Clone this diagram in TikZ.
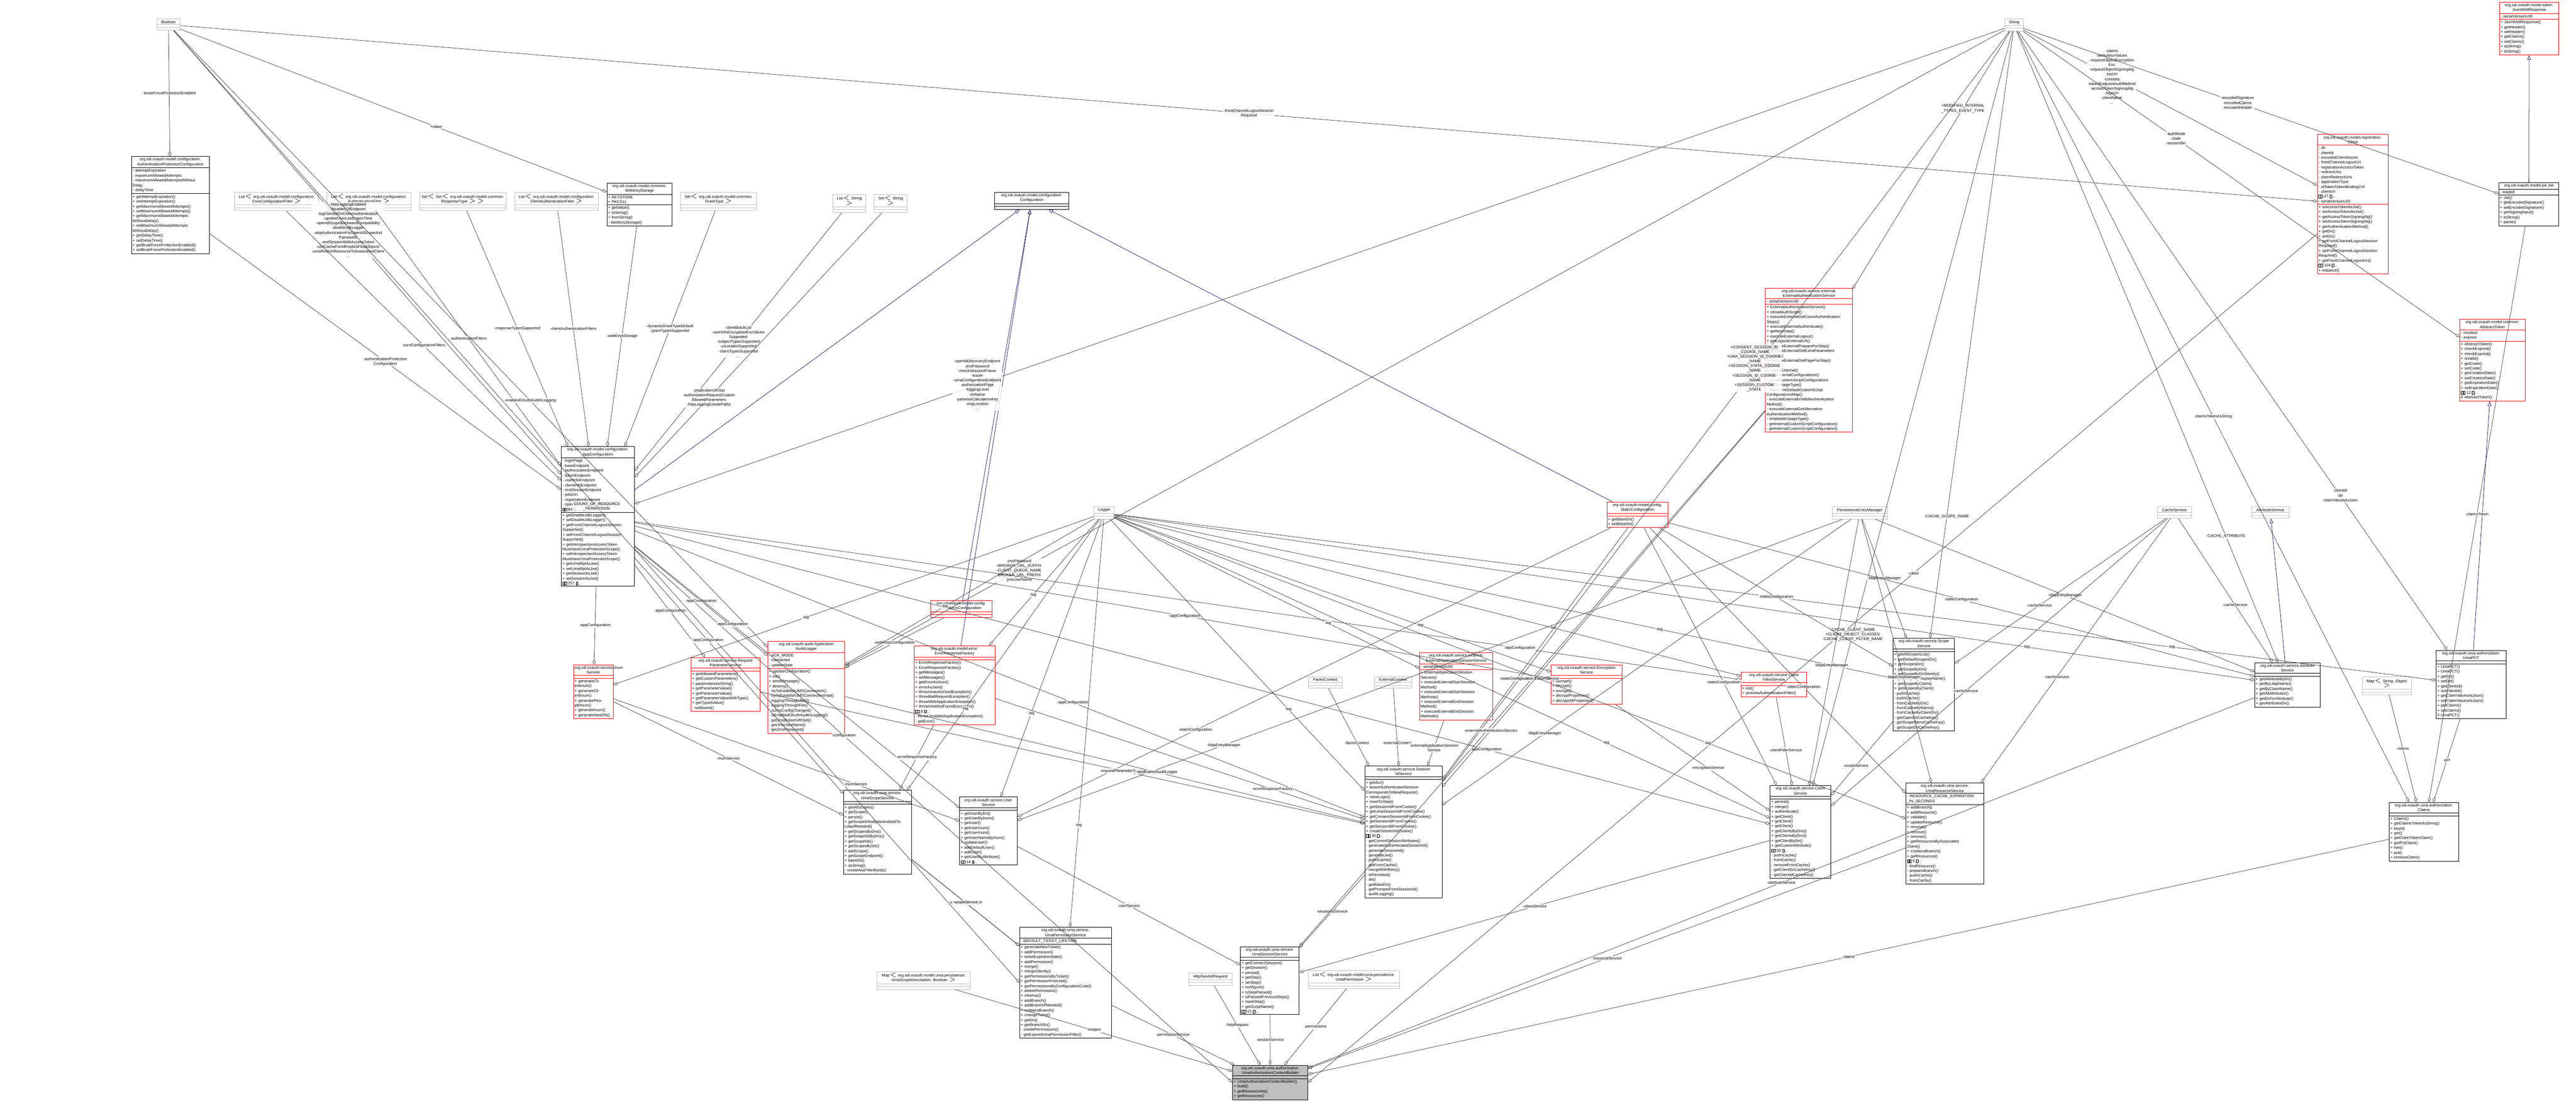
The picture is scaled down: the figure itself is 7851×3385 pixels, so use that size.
\documentclass[tikz,border=0pt]{standalone}
\usepackage{fontspec}
\setmainfont{Liberation Sans}
\usetikzlibrary{shapes.multipart,arrows.meta}
\definecolor{edgegray}{RGB}{64,64,64}
\definecolor{boxgray}{RGB}{191,191,191}
\definecolor{inhblue}{RGB}{25,25,112}
\newcommand\mbx{{\fboxsep=0pt\fboxrule=0.15pt\fbox{\rule{0pt}{2pt}\rule{1.3pt}{0pt}}}}
% one doxygen class box: name, x, y, width, style, title, attributes, methods
\newcommand\umlclass[8]{%
  \node[#5, text width=#4] (#1) at (#2,#3)
    {\centering #6\par \nodepart{second} #7 \nodepart{three} #8};}
\tikzset{
  cls/.style={rectangle split, rectangle split parts=3, draw=black, line width=0.35pt,
    anchor=north west, align=left, inner sep=0.9pt, font=\fontsize{3}{3.7}\selectfont,
    rectangle split empty part height=5pt},
  redcls/.style={cls, draw=red},
  extcls/.style={cls, draw=boxgray},
  maincls/.style={cls, fill=boxgray},
  agg/.style={-{Diamond[open,length=4pt,width=2.4pt]}, draw=edgegray, line width=0.3pt},
  inh/.style={-{Triangle[open,length=3.5pt,width=2.8pt]}, draw=inhblue, line width=0.3pt},
  lbl/.style={font=\fontsize{3}{3.6}\selectfont, align=center, inner sep=0.5pt, fill=white, fill opacity=0.8, text opacity=1}
}
\begin{document}
\begin{tikzpicture}[x=0.25pt,y=-0.25pt]
\useasboundingbox (0,0) rectangle (7851,3385);
% basic types
\umlclass{bool}{477}{57}{16pt}{extcls}{Boolean}{}{}
\umlclass{str}{6109}{57}{12.5pt}{extcls}{String}{}{}
\umlclass{logger}{3334}{1544}{13.5pt}{extcls}{Logger}{}{}
\umlclass{listcors}{715}{586}{62pt}{extcls}{List$<$ org.xdi.oxauth.model.configuration.\\CorsConfigurationFilter $>$}{}{}
\umlclass{listauth}{996}{586}{62pt}{extcls}{List$<$ org.xdi.oxauth.model.configuration.\\AuthenticationFilter $>$}{}{}
\umlclass{setrt}{1278}{586}{64pt}{extcls}{Set$<$ Set$<$ org.xdi.oxauth.model.common.\\ResponseType $>$ $>$}{}{}
\umlclass{listcaf}{1568}{586}{62pt}{extcls}{List$<$ org.xdi.oxauth.model.configuration.\\ClientAuthenticationFilter $>$}{}{}
\umlclass{setgt}{2074}{586}{56pt}{extcls}{Set$<$ org.xdi.oxauth.model.common.\\GrantType $>$}{}{}
\umlclass{liststr}{2537}{592}{23.5pt}{extcls}{List$<$ String $>$}{}{}
\umlclass{setstr}{2663}{592}{23.5pt}{extcls}{Set$<$ String $>$}{}{}
\umlclass{pem}{5583}{1544}{40.5pt}{extcls}{PersistenceEntryManager}{}{}
\umlclass{cache}{6575}{1544}{24pt}{extcls}{CacheService}{}{}
\umlclass{attrbase}{6861}{1544}{27pt}{extcls}{AttributeService}{}{}
\umlclass{faces}{3987}{2062}{24pt}{extcls}{FacesContext}{}{}
\umlclass{extctx}{4187}{2062}{27pt}{extcls}{ExternalContext}{}{}
\umlclass{mapso}{7199}{2062}{35.5pt}{extcls}{Map$<$ String, Object $>$}{}{}
\umlclass{mapscope}{2673}{2959}{69pt}{extcls}{Map$<$ org.xdi.oxauth.model.uma.persistence.\\UmaScopeDescription, Boolean $>$}{}{}
\umlclass{httpreq}{3623}{2965}{31pt}{extcls}{HttpServletRequest}{}{}
\umlclass{listperm}{3986}{2957}{68pt}{extcls}{List$<$ org.xdi.oxauth.model.uma.persistence.\\UmaPermission $>$}{}{}
% configuration
\umlclass{authprot}{400}{476}{57.5pt}{cls}{org.xdi.oxauth.model.configuration.\\AuthenticationProtectionConfiguration}
  {- attemptExpiration\\- maximumAllowedAttempts\\- maximumAllowedAttemptsWithout\\Delay\\- delayTime}
  {+ getAttemptExpiration()\\+ setAttemptExpiration()\\+ getMaximumAllowedAttempts()\\+ setMaximumAllowedAttempts()\\+ getMaximumAllowedAttempts\\WithoutDelay()\\+ setMaximumAllowedAttempts\\WithoutDelay()\\+ getDelayTime()\\+ setDelayTime()\\+ getBruteForceProtectionEnabled()\\+ setBruteForceProtectionEnabled()}
\umlclass{wks}{1849}{557}{48pt}{cls}{org.xdi.oxauth.model.common.\\WebKeyStorage}
  {+ KEYSTORE\\+ PKCS11}{+ getValue()\\+ toString()\\+ fromString()\\- WebKeyStorage()}
\umlclass{conf}{3031}{585}{54.5pt}{cls}{org.xdi.oxauth.model.configuration.\\Configuration}{}{}
\umlclass{appconf}{1710}{1360}{54pt}{cls}{org.xdi.oxauth.model.configuration.\\AppConfiguration}
  {- loginPage\\- baseEndpoint\\- authorizationEndpoint\\- tokenEndpoint\\- userInfoEndpoint\\- clientInfoEndpoint\\- endSessionEndpoint\\- jwksUri\\- registrationEndpoint\\- openIdConfigurationEndpoint\\\mbx\mbx{} 84 \mbx...}
  {+ getDisableJdkLogger()\\+ setDisableJdkLogger()\\+ getFrontChannelLogoutSession\\Supported()\\+ setFrontChannelLogoutSession\\Supported()\\+ getIntrospectionAccessToken\\MustHaveUmaProtectionScope()\\+ setIntrospectionAccessToken\\MustHaveUmaProtectionScope()\\+ getUmaRptAsJwt()\\+ setUmaRptAsJwt()\\+ getSessionAsJwt()\\+ setSessionAsJwt()\\\mbx\mbx{} 257 \mbx...}
\umlclass{staticconf}{4897}{1529}{44.5pt}{redcls}{org.xdi.oxauth.model.config.\\StaticConfiguration}{}{+ getBaseDn()\\+ setBaseDn()}
\umlclass{wkconf}{2835}{1829}{45pt}{redcls}{org.xdi.oxauth.model.config.\\WebKeysConfiguration}{}{}
\umlclass{errfac}{2785}{1967}{60pt}{redcls}{org.xdi.oxauth.model.error.\\ErrorResponseFactory}{}
  {+ ErrorResponseFactory()\\+ ErrorResponseFactory()\\+ getMessages()\\+ setMessages()\\+ getErrorAsJson()\\+ errorAsJson()\\+ throwUnauthorizedException()\\+ throwBadRequestException()\\+ throwWebApplicationException()\\+ throwUmaNotFoundException()\\\mbx\mbx{} 8 \mbx...\\- throwUmaWebApplicationException()\\- getError()}
% tokens and client
\umlclass{jwr}{7617}{6}{43.5pt}{redcls}{org.xdi.oxauth.model.token.\\JsonWebResponse}{- serialVersionUID}
  {+ JsonWebResponse()\\+ getHeader()\\+ setHeader()\\+ getClaims()\\+ setClaims()\\+ asString()\\+ toString()}
\umlclass{jwt}{7615}{556}{44pt}{cls}{org.xdi.oxauth.model.jwt.Jwt}{- loaded}
  {+ Jwt()\\+ getEncodedSignature()\\+ setEncodedSignature()\\+ getSigningInput()\\+ toString()\\+ parse()}
\umlclass{client}{7062}{409}{52pt}{redcls}{org.xdi.oxauth.model.registration.\\Client}
  {- dn\\- clientId\\- encodedClientSecret\\- frontChannelLogoutUri\\- registrationAccessToken\\- redirectUris\\- claimRedirectUris\\- applicationType\\- idTokenTokenBindingCnf\\- clientUri\\\mbx\mbx{} 27 \mbx...\\- serialVersionUID}
  {+ isAccessTokenAsJwt()\\+ setAccessTokenAsJwt()\\+ getAccessTokenSigningAlg()\\+ setAccessTokenSigningAlg()\\+ getAuthenticationMethod()\\+ getDn()\\+ setDn()\\+ getFrontChannelLogoutSession\\Required()\\+ setFrontChannelLogoutSession\\Required()\\+ getFrontChannelLogoutUri()\\\mbx\mbx{} 104 \mbx...\\+ instance()}
\umlclass{abstok}{7496}{972}{48pt}{redcls}{org.xdi.oxauth.model.common.\\AbstractToken}{- revoked\\- expired}
  {+ AbstractToken()\\+ checkExpired()\\+ checkExpired()\\+ isValid()\\+ getCode()\\+ setCode()\\+ getCreationDate()\\+ setCreationDate()\\+ getExpirationDate()\\+ setExpirationDate()\\\mbx\mbx{} 12 \mbx...\\\# AbstractToken()}
\umlclass{extauth}{5380}{877}{64.5pt}{redcls}{org.xdi.oxauth.service.external.\\ExternalAuthenticationService}{- serialVersionUID}
  {+ ExternalAuthenticationService()\\+ reloadAuthScript()\\+ executeExternalGetCountAuthentication\\Steps()\\+ executeExternalAuthenticate()\\+ getNextStep()\\+ executeExternalLogout()\\+ getLogoutExternalUrl()\\+ executeExternalPrepareForStep()\\+ executeExternalGetExtraParameters\\ForStep()\\+ executeExternalGetPageForStep()\\\mbx\mbx{} 14 \mbx...\\\# reloadExternal()\\\# addExternalConfigurations()\\- groupCustomScriptConfigurations\\MapByUsageType()\\- determineDefaultCustomScript\\ConfigurationsMap()\\- executeExternalIsValidAuthentication\\Method()\\- executeExternalGetAlternative\\AuthenticationMethod()\\- isValidateUsageType()\\- getInternalCustomScriptConfiguration()\\- getInternalCustomScriptConfiguration()}
\umlclass{umapct}{7424}{1981}{51.5pt}{cls}{org.xdi.oxauth.uma.authorization.\\UmaPCT}{}
  {+ UmaPCT()\\+ UmaPCT()\\+ getDn()\\+ setDn()\\+ getClientId()\\+ setClientId()\\+ getClaimValuesAsJson()\\+ setClaimValuesAsJson()\\+ getClaims()\\+ setClaims()\\\# UmaPCT()}
\umlclass{claims}{7281}{2444}{51pt}{cls}{org.xdi.oxauth.uma.authorization.\\Claims}{}
  {+ Claims()\\+ getClaimsTokenAsString()\\+ keys()\\+ get()\\+ getClaimTokenClaim()\\+ getPctClaim()\\+ has()\\+ put()\\+ removeClaim()}
% services
\umlclass{inum}{1747}{2025}{28.5pt}{redcls}{org.xdi.oxauth.service.Inum\\Service}{}
  {+ generateClientInum()\\+ generateClientInum()\\+ generatePeopleInum()\\+ generateInum()\\+ generateNewDN()}
\umlclass{reqparam}{2105}{2003}{51pt}{redcls}{org.xdi.oxauth.service.Request\\ParameterService}{}
  {+ getAllowedParameters()\\+ getCustomParameters()\\+ parametersAsString()\\+ getParameterValue()\\+ getParameterValue()\\+ getParameterValueWithType()\\+ getTypedValue()\\- isAllowed()}
\umlclass{audit}{2339}{1953}{57pt}{redcls}{org.xdi.oxauth.audit.Application\\AuditLogger}{- ACK\_MODE\\- transacted\\- updateState}
  {+ updateConfiguration()\\+ init()\\+ sendMessage()\\+ destroy()\\- tryToEstablishJMSConnection()\\- tryToEstablishJMSConnectionImpl()\\- loggingThroughJMS()\\- loggingThroughFile()\\- isJmsConfigChanged()\\- isEnabledOAuthAuditnLogging()\\- getJmsBrokerURISet()\\- getJmsUserName()\\- getJmsPassword()}
\umlclass{extapp}{4326}{1988}{54pt}{redcls}{org.xdi.oxauth.service.external.\\ExternalApplicationSessionService}{- serialVersionUID}
  {+ ExternalApplicationSession\\Service()\\+ executeExternalStartSession\\Method()\\+ executeExternalStartSession\\Methods()\\+ executeExternalEndSession\\Method()\\+ executeExternalEndSession\\Methods()}
\umlclass{encr}{4727}{2025}{52pt}{redcls}{org.xdi.oxauth.service.Encryption\\Service}{}
  {+ decrypt()\\+ decrypt()\\+ encrypt()\\+ decryptProperties()\\+ decryptAllProperties()}
\umlclass{cfilter}{5306}{2047}{48pt}{redcls}{org.xdi.oxauth.service.Client\\FilterService}{}{+ init()\\+ processAuthenticationFilter()}
\umlclass{scope}{5769}{1944}{45pt}{cls}{org.xdi.oxauth.service.Scope\\Service}{}
  {+ getAllScopesList()\\+ getDefaultScopesDn()\\+ getScopesDn()\\+ getScopeByDn()\\+ getScopeByDnSilently()\\+ getScopeByDisplayName()\\+ getScopeByClaim()\\+ getScopesByClaim()\\- putInCache()\\- putInCache()\\- fromCacheByDn()\\- fromCacheByName()\\- fromCacheByClaimDn()\\- getClaimDnCacheKey()\\- getScopeNameCacheKey()\\- getScopeDnCacheKey()}
\umlclass{attr}{6871}{2019}{48pt}{cls}{org.xdi.oxauth.service.Attribute\\Service}{}
  {+ getAttributeByDn()\\+ getByLdapName()\\+ getByClaimName()\\+ getAllAttributes()\\+ getDnForAttribute()\\+ getAttributesDn()}
\umlclass{umascope}{2570}{2407}{50pt}{cls}{org.xdi.oxauth.uma.service.\\UmaScopeService}{}
  {+ getAllScopes()\\+ getScope()\\+ persist()\\+ getScopeDNsByIdsAndAddTo\\LdapIfNeeded()\\+ getScopesByDns()\\+ getScopeIdsByDns()\\+ getScopeIds()\\+ getScopesByIds()\\+ addScope()\\+ getScopeEndpoint()\\+ baseDn()\\+ asString()\\- createAnyFilterByIds()}
\umlclass{user}{2924}{2428}{42pt}{cls}{org.xdi.oxauth.service.User\\Service}{}
  {+ getUserByDn()\\+ getUserByInum()\\+ getUser()\\+ getUserInum()\\+ getUserInum()\\+ getUserNameByInum()\\+ updateUser()\\+ addDefaultUser()\\+ addUser()\\+ getUserByAttribute()\\\mbx\mbx{} 14 \mbx...}
\umlclass{sessid}{4159}{2334}{57pt}{cls}{org.xdi.oxauth.service.Session\\IdService}{}
  {+ getAcr()\\+ assertAuthenticatedSession\\CorrespondsToNewRequest()\\+ reinitLogin()\\+ resetToStep()\\+ getSessionIdFromCookie()\\+ getUmaSessionIdFromCookie()\\+ getConsentSessionIdFromCookie()\\+ getSessionIdFromCookie()\\+ getSessionIdFromCookie()\\+ createSessionIdCookie()\\\mbx\mbx{} 30 \mbx...\\- getCurrentSessionAttributes()\\- generateAuthenticatedSessionId()\\- generateSessionId()\\- generateJwt()\\- putInCache()\\- getFromCache()\\- mergeWithRetry()\\- isPersisted()\\- dn()\\- getBaseDn()\\- getPromptsFromSessionId()\\- auditLogging()}
\umlclass{clientsvc}{5394}{2393}{44.5pt}{cls}{org.xdi.oxauth.service.Client\\Service}{}
  {+ persist()\\+ merge()\\+ authenticate()\\+ getClient()\\+ getClient()\\+ getClient()\\+ getClientsByDns()\\+ getClientsByDns()\\+ getClientByDn()\\+ getCustomAttribute()\\\mbx\mbx{} 30 \mbx...\\- putInCache()\\- fromCache()\\- removeFromCache()\\- getClientDnCacheKey()\\- getClientIdCacheKey()}
\umlclass{umares}{5808}{2385}{57.5pt}{cls}{org.xdi.oxauth.uma.service.\\UmaResourceService}{- RESOURCE\_CACHE\_EXPIRATION\\\_IN\_SECONDS}
  {+ addBranch()\\+ addResource()\\+ validate()\\+ updateResource()\\+ remove()\\+ remove()\\+ remove()\\+ getResourcesByAssociated\\Client()\\+ containsBranch()\\+ getResources()\\\mbx\mbx{} 6 \mbx...\\- findResource()\\- prepareBranch()\\- putInCache()\\- fromCache()}
\umlclass{umaperm}{3107}{2825}{68pt}{cls}{org.xdi.oxauth.uma.service.\\UmaPermissionService}{- DEFAULT\_TICKET\_LIFETIME}
  {+ generateNewTicket()\\+ addPermission()\\+ ticketExpirationDate()\\+ addPermission()\\+ merge()\\+ mergeSilently()\\+ getPermissionsByTicket()\\+ getPermissionFromJwt()\\+ getPermissionsByConfigurationCode()\\+ deletePermission()\\+ cleanup()\\+ addBranch()\\+ addBranchIfNeeded()\\+ containsBranch()\\+ changeTicket()\\+ getDn()\\+ getBranchDn()\\- createPermissions()\\- getExpiredUmaPermissionFilter()}
\umlclass{umasess}{3780}{2884}{43pt}{cls}{org.xdi.oxauth.uma.service.\\UmaSessionService}{}
  {+ getConnectSession()\\+ getSession()\\+ persist()\\+ getStep()\\+ setStep()\\+ configure()\\+ isStepPassed()\\+ isPassedPreviousSteps()\\+ markStep()\\+ getScriptName()\\\mbx\mbx{} 15 \mbx...}
\umlclass{builder}{3756}{3245}{55.5pt}{maincls}{org.xdi.oxauth.uma.authorization.\\UmaAuthorizationContextBuilder}{}
  {+ UmaAuthorizationContextBuilder()\\+ build()\\+ getResourceIds()\\+ getResources()}
% inheritance
\draw[inh] (appconf) -- (conf);
\draw[inh] (wkconf) -- (conf);
\draw[inh] (errfac) -- (conf);
\draw[inh] (staticconf) -- (conf);
\draw[inh] (jwt) -- (jwr);
\draw[inh] (umapct) -- (abstok);
\draw[inh] (attr) -- (attrbase);
% members of the builder
\draw[agg] (umaperm) -- node[lbl]{-permissionService} (builder);
\draw[agg] (httpreq) -- node[lbl]{-httpRequest} (builder);
\draw[agg] (umasess) -- node[lbl]{-sessionService} (builder);
\draw[agg] (listperm) -- node[lbl]{-permissions} (builder);
\draw[agg] (mapscope) -- node[lbl]{-scopes} (builder);
\draw[agg] (appconf) -- node[lbl,pos=0.35]{-configuration} (builder.west);
\draw[agg] (umares) -- node[lbl]{-resourceService} (builder);
\draw[agg] (attr) -- node[lbl]{-attributeService} (builder);
\draw[agg] (client) -- node[lbl,pos=0.4]{-client} (builder.east);
\draw[agg] (claims) -- node[lbl]{-claims} (builder);
\draw[agg] (umascope) -- node[lbl]{-umaScopeService} (umaperm);
\draw[agg] (user) -- node[lbl]{-userService} (umasess);
\draw[agg] (sessid) -- node[lbl]{-sessionIdService} (umasess);
\draw[agg] (clientsvc) -- node[lbl]{-clientService} (umasess);
\draw[agg] (extauth) -- node[lbl]{-externalAuthenticationService} (umasess);
% claims and tokens
\draw[agg] (umapct) -- node[lbl]{-pct} (claims);
\draw[agg] (mapso) -- node[lbl]{-claims} (claims);
\draw[agg] (jwt) -- node[lbl]{-claimsToken} (claims);
\draw[agg] (str) -- node[lbl]{-claimsTokenAsString} (claims);
\draw[agg] (str) -- node[lbl,pos=0.3]{-claims\\-defaultAcrValues\\-requestObjectEncryption\\Enc\\-requestObjectSigningAlg\\-tosUri\\-contacts\\-tokenEndpointAuthMethod\\-accessTokenSigningAlg\\-logoUri\\-clientName\\...} (client);
\draw[agg] (str) -- node[lbl,pos=0.45]{-encodedSignature\\-encodedClaims\\-encodedHeader} (jwt);
\draw[agg] (str) -- node[lbl,pos=0.35]{-authMode\\-code\\-sessionDn} (abstok);
\draw[agg] (str) -- node[lbl,pos=0.75]{-clientId\\-dn\\-claimValuesAsJson} (umapct);
\draw[agg] (str) -- node[lbl,pos=0.3]{+MODIFIED\_INTERNAL\\\_TYPES\_EVENT\_TYPE} (extauth);
\draw[agg] (str) -- node[lbl,pos=0.8]{-CACHE\_SCOPE\_NAME} (scope);
\draw[agg] (str) -- node[lbl,pos=0.8]{-CACHE\_ATTRIBUTE} (attr);
\draw[agg] (str) -- node[lbl,pos=0.8]{-CACHE\_CLIENT\_NAME\\+CLIENT\_OBJECT\_CLASSES\\-CACHE\_CLIENT\_FILTER\_NAME} (clientsvc);
\draw[agg] (str) -- node[lbl,pos=0.45]{+CONSENT\_SESSION\_ID\\\_COOKIE\_NAME\\+UMA\_SESSION\_ID\_COOKIE\\\_NAME\\+SESSION\_STATE\_COOKIE\\\_NAME\\+SESSION\_ID\_COOKIE\\\_NAME\\+SESSION\_CUSTOM\\\_STATE} (sessid);
\draw[agg] (str) -- node[lbl,pos=0.75]{-openIdDiscoveryEndpoint\\-jmsPassword\\-checkSessionIFrame\\-issuer\\-umaConfigurationEndpoint\\-authorizationPage\\-loggingLevel\\-dnName\\-pairwiseCalculationKey\\-imgLocation\\...} (appconf);
\draw[agg] (str) -- node[lbl,pos=0.85]{-jmsPassword\\+BROKER\_URL\_SUFFIX\\-CLIENT\_QUEUE\_NAME\\-BROKER\_URL\_PREFIX\\-jmsUserName} (audit);
% configuration members
\draw[agg] (bool) -- node[lbl]{-bruteForceProtectionEnabled} (authprot);
\draw[agg] (bool) -- node[lbl,pos=0.45]{-httpLoggingEnabled\\-disableU2fEndpoint\\-logClientIdOnClientAuthentication\\-updateUserLastLogonTime\\-openidScopeBackwardCompatibility\\-disableJdkLogger\\-skipAuthorizationForOpenIdScopeAnd\\PairwiseId\\-endSessionWithAccessToken\\-useCacheForAllImplicitFlowObjects\\-umaRestrictResourceToAssociatedClient\\...} (appconf);
\draw[agg] (bool) -- node[lbl,pos=0.5]{-frontChannelLogoutSession\\Required} (client);
\draw[agg] (bool) -- node[lbl,pos=0.6]{+value} (wks);
\draw[agg] (bool) -- node[lbl,pos=0.5]{-COUNT\_OF\_RESOURCE\\\_PERMISSION} (umaperm.west);
\draw[agg] (authprot) -- node[lbl]{-authenticationProtection\\Configuration} (appconf);
\draw[agg] (listcors) -- node[lbl]{-corsConfigurationFilters} (appconf);
\draw[agg] (listauth) -- node[lbl]{-authenticationFilters} (appconf);
\draw[agg] (setrt) -- node[lbl]{-responseTypesSupported} (appconf);
\draw[agg] (listcaf) -- node[lbl]{-clientAuthenticationFilters} (appconf);
\draw[agg] (wks) -- node[lbl]{-webKeysStorage} (appconf);
\draw[agg] (setgt) -- node[lbl]{-dynamicGrantTypeDefault\\-grantTypesSupported} (appconf);
\draw[agg] (liststr) -- node[lbl]{-clientBlackList\\-userInfoEncryptionEncValues\\Supported\\-subjectTypesSupported\\-uiLocalesSupported\\-claimTypesSupported\\...} (appconf);
\draw[agg] (setstr) -- node[lbl,pos=0.7]{-jmsBrokerURISet\\-authorizationRequestCustom\\AllowedParameters\\-httpLoggingExludePaths} (appconf);
\draw[agg] (bool) -- node[lbl,pos=0.6]{-enabledOAuthAuditnLogging} (audit);
% appConfiguration users
\draw[agg] (appconf) -- node[lbl]{-appConfiguration} (inum);
\draw[agg] (appconf) -- node[lbl]{-appConfiguration} (reqparam);
\draw[agg] (appconf) -- node[lbl]{-appConfiguration} (audit);
\draw[agg] (appconf) -- node[lbl,pos=0.35]{-appConfiguration} (umascope);
\draw[agg] (appconf) -- node[lbl,pos=0.3]{-appConfiguration} (user);
\draw[agg] (appconf) -- node[lbl,pos=0.6]{-appConfiguration} (sessid);
\draw[agg] (appconf) -- node[lbl,pos=0.6]{-appConfiguration} (encr);
\draw[agg] (appconf) -- node[lbl,pos=0.75]{-appConfiguration} (clientsvc);
\draw[agg] (appconf) -- node[lbl,pos=0.8]{-appConfiguration} (cfilter);
\draw[agg] (wkconf) -- node[lbl]{-webKeysConfiguration} (audit);
% logger
\foreach \t/\p in {inum/0.6, audit/0.6, errfac/0.6, umascope/0.7, user/0.7, sessid/0.7, extapp/0.7, encr/0.7, cfilter/0.7, scope/0.7, clientsvc/0.75, attr/0.8, umares/0.75, umapct/0.8, umaperm/0.75}
  \draw[agg] (logger) -- node[lbl,pos=\p]{-log} (\t);
% shared services
\draw[agg] (inum) -- node[lbl]{-inumService} (umascope);
\draw[agg] (inum) -- node[lbl,pos=0.7]{-inumService} (user);
\draw[agg] (errfac) -- node[lbl]{-errorResponseFactory} (umascope);
\draw[agg] (errfac) -- node[lbl,pos=0.75]{-errorResponseFactory} (sessid);
\foreach \t/\p in {user/0.75, sessid/0.75, scope/0.5, clientsvc/0.55, attr/0.5, umares/0.6}
  \draw[agg] (pem) -- node[lbl,pos=\p]{-ldapEntryManager} (\t);
\foreach \t in {scope, attr, clientsvc, umares}
  \draw[agg] (cache) -- node[lbl,pos=0.6]{-cacheService} (\t);
\foreach \t/\p in {user/0.7, sessid/0.6, scope/0.5, clientsvc/0.6, attr/0.5, umares/0.6}
  \draw[agg] (staticconf) -- node[lbl,pos=\p]{-staticConfiguration} (\t);
\draw[agg] (faces) -- node[lbl,pos=0.7]{-facesContext} (sessid);
\draw[agg] (extctx) -- node[lbl,pos=0.7]{-externalContext} (sessid);
\draw[agg] (extapp) -- node[lbl,pos=0.6]{-externalApplicationSession\\Service} (sessid);
\draw[agg] (reqparam) -- node[lbl,pos=0.6]{-requestParameterService} (sessid);
\draw[agg] (audit) -- node[lbl,pos=0.6]{-applicationAuditLogger} (sessid);
\draw[agg] (extauth) -- node[lbl,pos=0.85]{-externalAuthenticationService} (sessid);
\draw[agg] (encr) -- node[lbl,pos=0.6]{-encryptionService} (clientsvc);
\draw[agg] (cfilter) -- node[lbl,pos=0.6]{-clientFilterService} (clientsvc);
\draw[agg] (scope) -- node[lbl,pos=0.6]{-scopeService} (clientsvc);
\draw[agg] (umascope) -- node[lbl,pos=0.5]{-scopeService} (umaperm);
\end{tikzpicture}
\end{document}
